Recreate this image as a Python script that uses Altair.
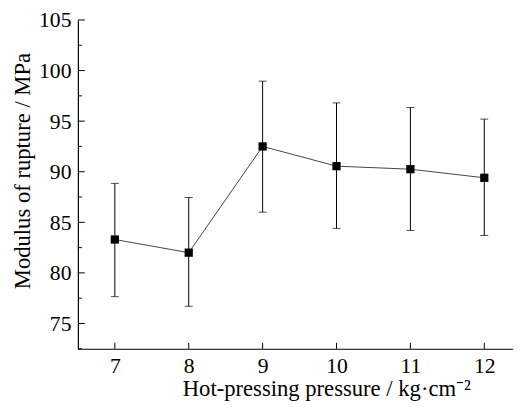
import altair as alt
import pandas as pd

pressure = [7, 8, 9, 10, 11, 12]
mor = [83.3, 82.0, 92.5, 90.55, 90.25, 89.4]
mor_hi = [88.85, 87.45, 98.95, 96.8, 96.35, 95.2]
mor_lo = [77.65, 76.7, 86.0, 84.4, 84.2, 83.7]

y_major = [75, 80, 85, 90, 95, 100, 105]
y_minor = [72.5, 77.5, 82.5, 87.5, 92.5, 97.5, 102.5]
x_major = [7, 8, 9, 10, 11, 12]

df = pd.DataFrame({"x": pressure, "y": mor, "hi": mor_hi, "lo": mor_lo})
dfy = pd.DataFrame({"y": y_major})
dfym = pd.DataFrame({"y": y_minor})
dfx = pd.DataFrame({"x": x_major})

FONT = "Liberation Serif"
W, H = 442, 334

xscale = alt.Scale(domain=[6.5, 6.5 + W / 75.06], nice=False, zero=False)
yscale = alt.Scale(domain=[72.5, 105], nice=False, zero=False)

common = dict(tickSize=0, grid=False, domainColor="black", domainWidth=1.2,
              labelColor="black", titleColor="black",
              labelFont=FONT, titleFont=FONT, labelFontSize=22, titleFontSize=23,
              titleFontWeight="normal")

xaxis = alt.Axis(values=x_major, labelPadding=7,
                 title="Hot-pressing pressure / kg·cm⁻²", titleX=106, titleY=47,
                 titleAlign="left", titleBaseline="alphabetic", **common)
yaxis = alt.Axis(values=y_major, labelPadding=7,
                 title="Modulus of rupture / MPa", titleX=-49, titleY=153,
                 titleBaseline="alphabetic", titleAlign="center", **common)

X = alt.X("x:Q", scale=xscale, axis=xaxis)
Y = alt.Y("y:Q", scale=yscale, axis=yaxis)

line = alt.Chart(df).mark_line(color="#444", strokeWidth=1).encode(x=X, y=Y)
bars = alt.Chart(df).mark_rule(color="black", strokeWidth=1).encode(
    x=X, y=alt.Y("lo:Q", scale=yscale, axis=yaxis), y2="hi:Q")
cap_hi = alt.Chart(df).mark_tick(color="black", orient="horizontal", size=8, thickness=1).encode(
    x=X, y=alt.Y("hi:Q", scale=yscale, axis=yaxis))
cap_lo = alt.Chart(df).mark_tick(color="black", orient="horizontal", size=8, thickness=1).encode(
    x=X, y=alt.Y("lo:Q", scale=yscale, axis=yaxis))
pts = alt.Chart(df).mark_square(color="black", size=70, opacity=1).encode(x=X, y=Y)

ytk = alt.Chart(dfy).mark_rule(color="black", strokeWidth=1).encode(
    y=Y, x=alt.value(0), x2=alt.value(7))
ytkm = alt.Chart(dfym).mark_rule(color="black", strokeWidth=1).encode(
    y=Y, x=alt.value(0), x2=alt.value(4))
xtk = alt.Chart(dfx).mark_rule(color="black", strokeWidth=1).encode(
    x=X, y=alt.value(H), y2=alt.value(H - 6))

chart = alt.layer(line, bars, cap_hi, cap_lo, pts, ytk, ytkm, xtk).properties(
    width=W, height=H, autosize="none",
    padding={"left": 71, "top": 9, "right": 0, "bottom": 56},
).configure_view(stroke=None)

chart.save("out.html", embed_options={"renderer": "svg", "actions": False})
